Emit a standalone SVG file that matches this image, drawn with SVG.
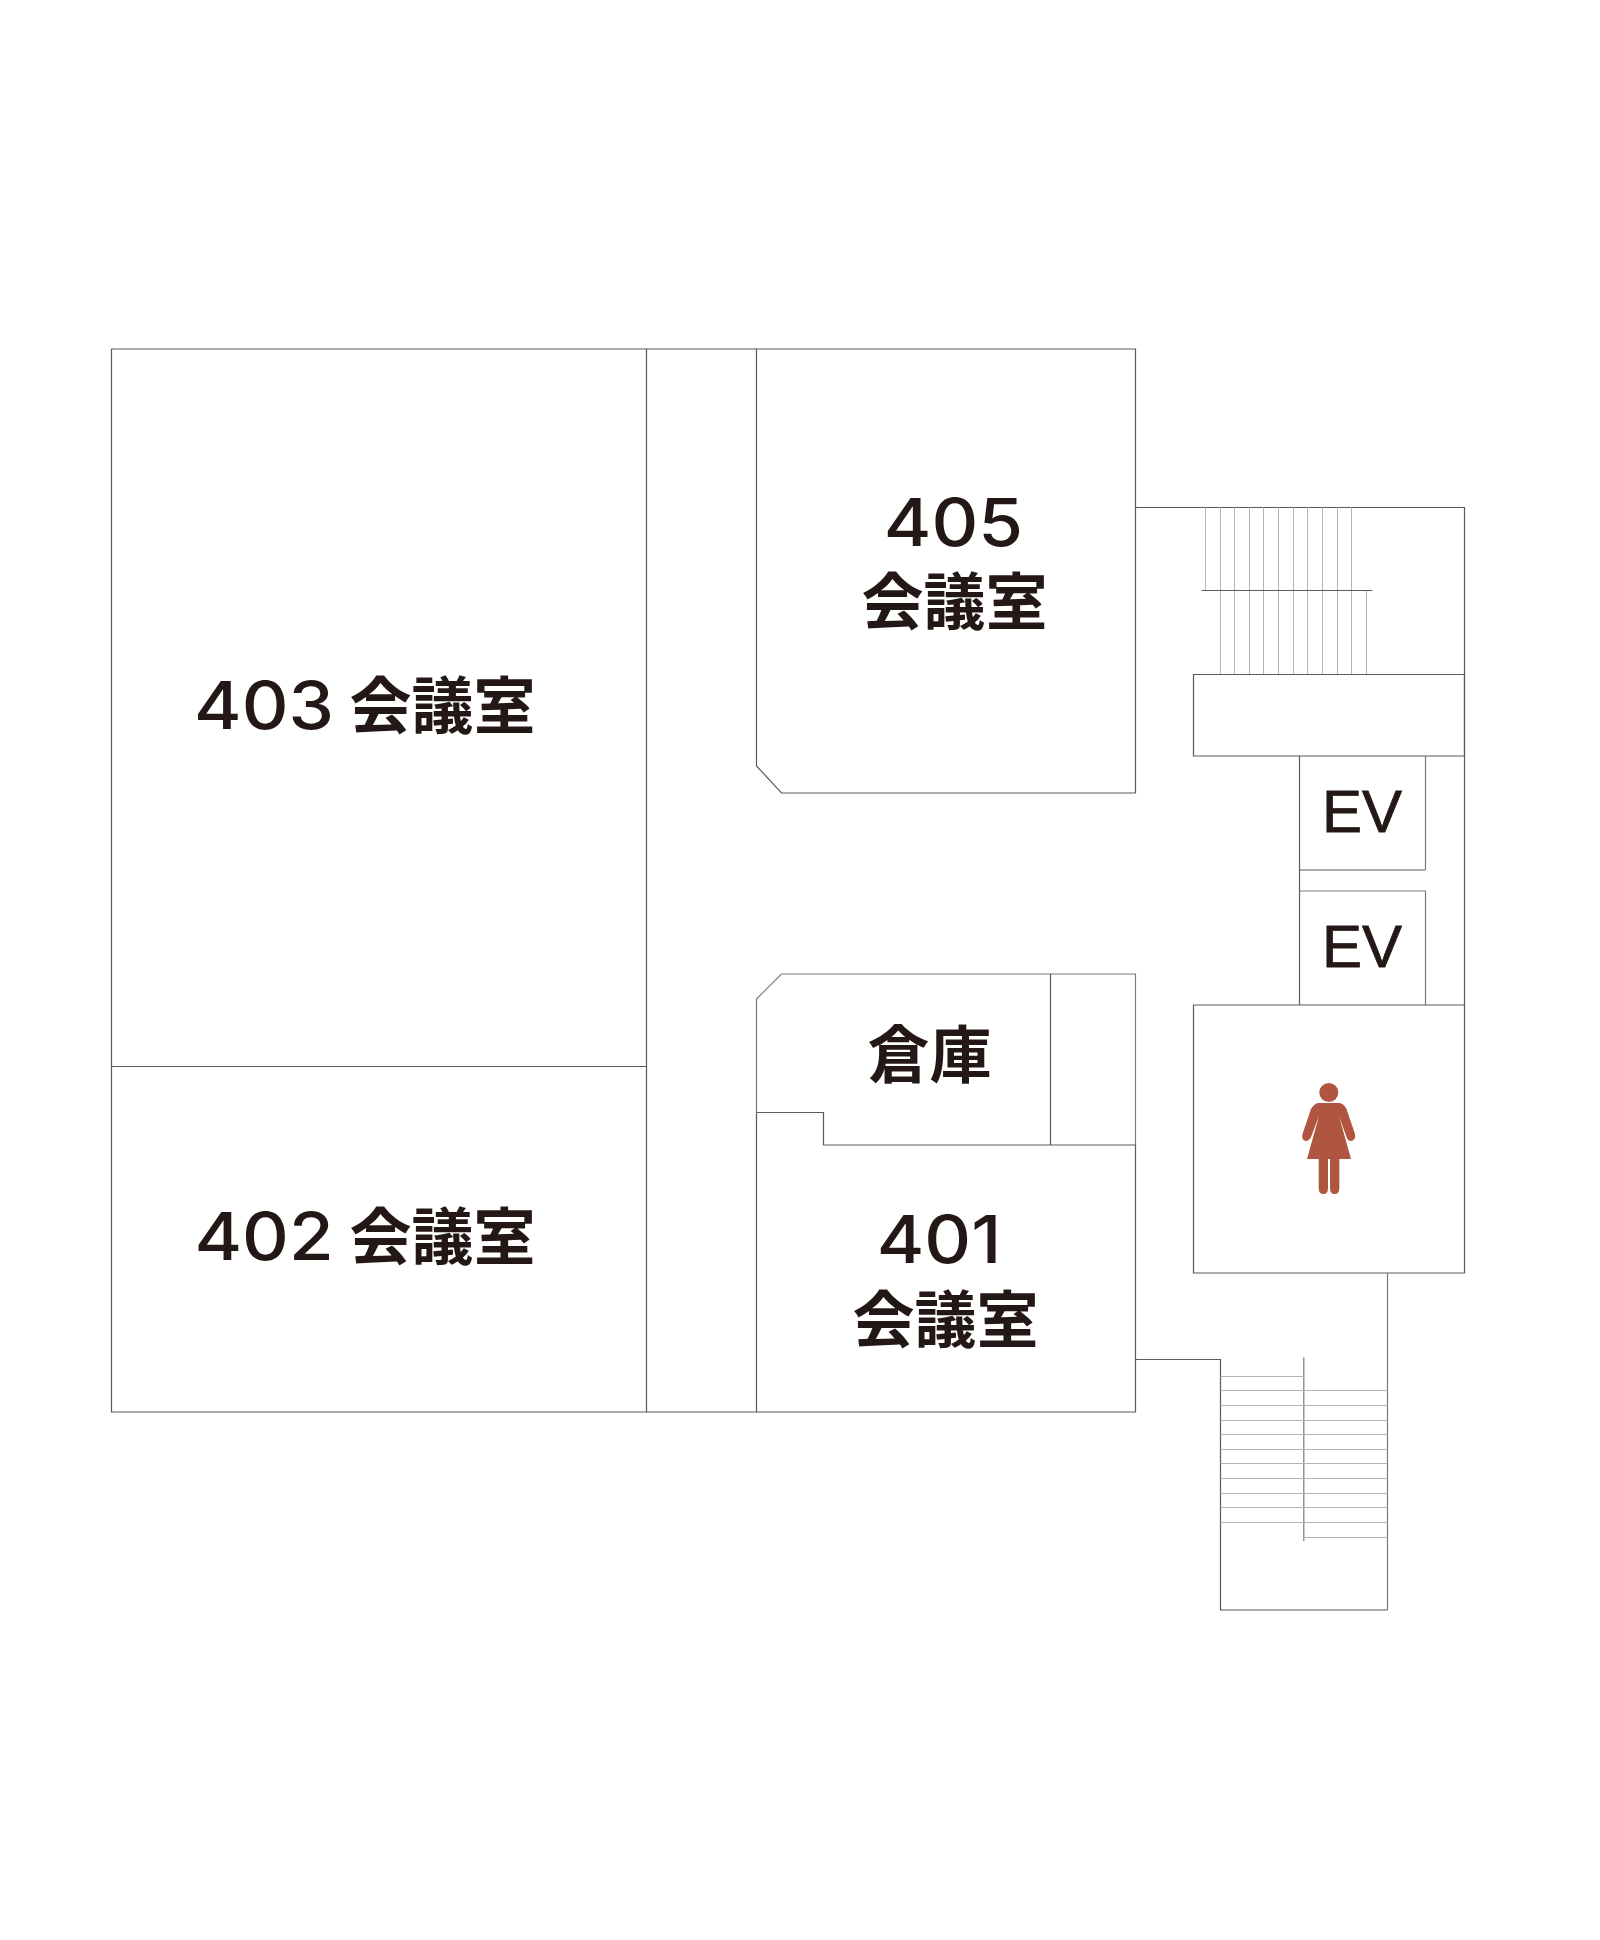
<svg xmlns="http://www.w3.org/2000/svg" width="1600" height="1940" viewBox="0 0 1600 1940">
<style>
.w{fill:none;stroke:#5a5a5a;stroke-width:1.2}
.l{fill:none;stroke:#7a7a7a;stroke-width:1.2}
.t{fill:none;stroke:#b5b5b5;stroke-width:1}
.n{font-family:"Inter","DejaVu Sans",sans-serif;font-weight:500;font-size:66px;fill:#231815;text-anchor:middle}
.k{font-family:"Noto Sans CJK JP",sans-serif;font-weight:700;font-size:62px;fill:#231815;text-anchor:middle}
.e{font-family:"Liberation Sans",sans-serif;font-size:60px;fill:#231815;stroke:#231815;stroke-width:.8;text-anchor:middle}
</style>
<rect width="1600" height="1940" fill="#fff"/>
<g id="room-403">
<path class="w" d="M111.5 349H646.500V1066.500H111.5Z"/>
<text class="n" transform="translate(264 729) scale(1.1 1)">403</text><text class="k" x="442.500" y="729">会議室</text>
</g>
<g id="room-402">
<path class="w" d="M111.5 1066.500H646.500V1412H111.500Z"/>
<text class="n" transform="translate(264 1260) scale(1.1 1)">402</text><text class="k" x="442.500" y="1260">会議室</text>
</g>
<g id="corridor"><path class="w" d="M646.500 349H756.500M646.500 1412H756.500"/></g>
<g id="room-405">
<path class="w" d="M756.500 349H1135.500V793H781.500L756.500 766Z"/>
<text class="n" transform="translate(953.500 546) scale(1.1 1)">405</text><text class="k" x="954.500" y="625">会議室</text>
</g>
<g id="storage">
<path class="l" d="M756.500 1112.500V999L781.500 974H1135.500V1145"/>
<path class="w" d="M1050.500 974V1145M756.500 1112.500H823.500V1145H1135.500"/>
<text class="k" x="929.500" y="1078">倉庫</text>
</g>
<g id="room-401">
<path class="w" d="M756.500 1112.500V1412H1135.500V1145"/>
<text class="n" transform="translate(939 1263) scale(1.1 1)">401</text><text class="k" x="945.500" y="1343">会議室</text>
</g>
<g id="stair-north">
<path class="w" d="M1135.500 507.500H1464.500V1005"/>
<path class="t" d="M1205.500 507.500V590M1220.500 507.500V674M1234.500 507.500V674M1249.500 507.500V674M1263.500 507.500V674M1278.500 507.500V674M1293.500 507.500V674M1307.500 507.500V674M1322.500 507.500V674M1337.500 507.500V674M1351.500 507.500V674M1366.500 590V674"/>
<path class="w" d="M1201.500 590.500H1372.500"/>
</g>
<g id="lobby-block"><path class="w" d="M1193.500 674.500H1464.500V756H1193.500Z"/></g>
<g id="ev-1">
<path class="w" d="M1299.500 756V870H1425.500"/><path class="l" d="M1425.500 756V870"/>
<text class="e" x="1362" y="832">EV</text>
</g>
<g id="ev-2">
<path class="w" d="M1299.500 870V1005"/><path class="l" d="M1299.500 891H1425.500V1005"/>
<text class="e" x="1362" y="967">EV</text>
</g>
<g id="restroom">
<path class="w" d="M1193.500 1005H1464.500V1273H1193.500Z"/>
<g id="female-icon" fill="#b05540" transform="translate(-1 0)">
<ellipse cx="1329.800" cy="1092.500" rx="9.500" ry="9.500"/>
<path d="M1319 1103H1341Q1345 1104 1347.500 1109L1356 1134Q1357 1140 1352 1141Q1349 1141 1347.500 1137L1340 1116L1352 1159H1308L1320 1116L1312 1137Q1310 1141 1307 1141Q1302 1140 1303.500 1134L1312 1109Q1315 1104 1319 1103Z"/>
<path d="M1319.700 1159H1329V1188Q1329 1194 1324.300 1194Q1319.700 1194 1319.700 1188ZM1331 1159H1340.300V1188Q1340.300 1194 1335.600 1194Q1331 1194 1331 1188Z"/>
</g>
</g>
<g id="stair-south">
<path class="w" d="M1135.500 1359.500H1220.500V1610H1387.500"/>
<path class="l" d="M1387.500 1273V1610M1303.800 1357.500V1541"/>
<path class="t" d="M1220.500 1376.500H1303.800M1220.500 1390.500H1387.500M1220.500 1405.500H1387.500M1220.500 1420.500H1387.500M1220.500 1434.500H1387.500M1220.500 1449.500H1387.500M1220.500 1463.500H1387.500M1220.500 1478.500H1387.500M1220.500 1493.500H1387.500M1220.500 1507.500H1387.500M1220.500 1522.500H1387.500M1303.800 1537.500H1387.500"/>
</g>
</svg>
